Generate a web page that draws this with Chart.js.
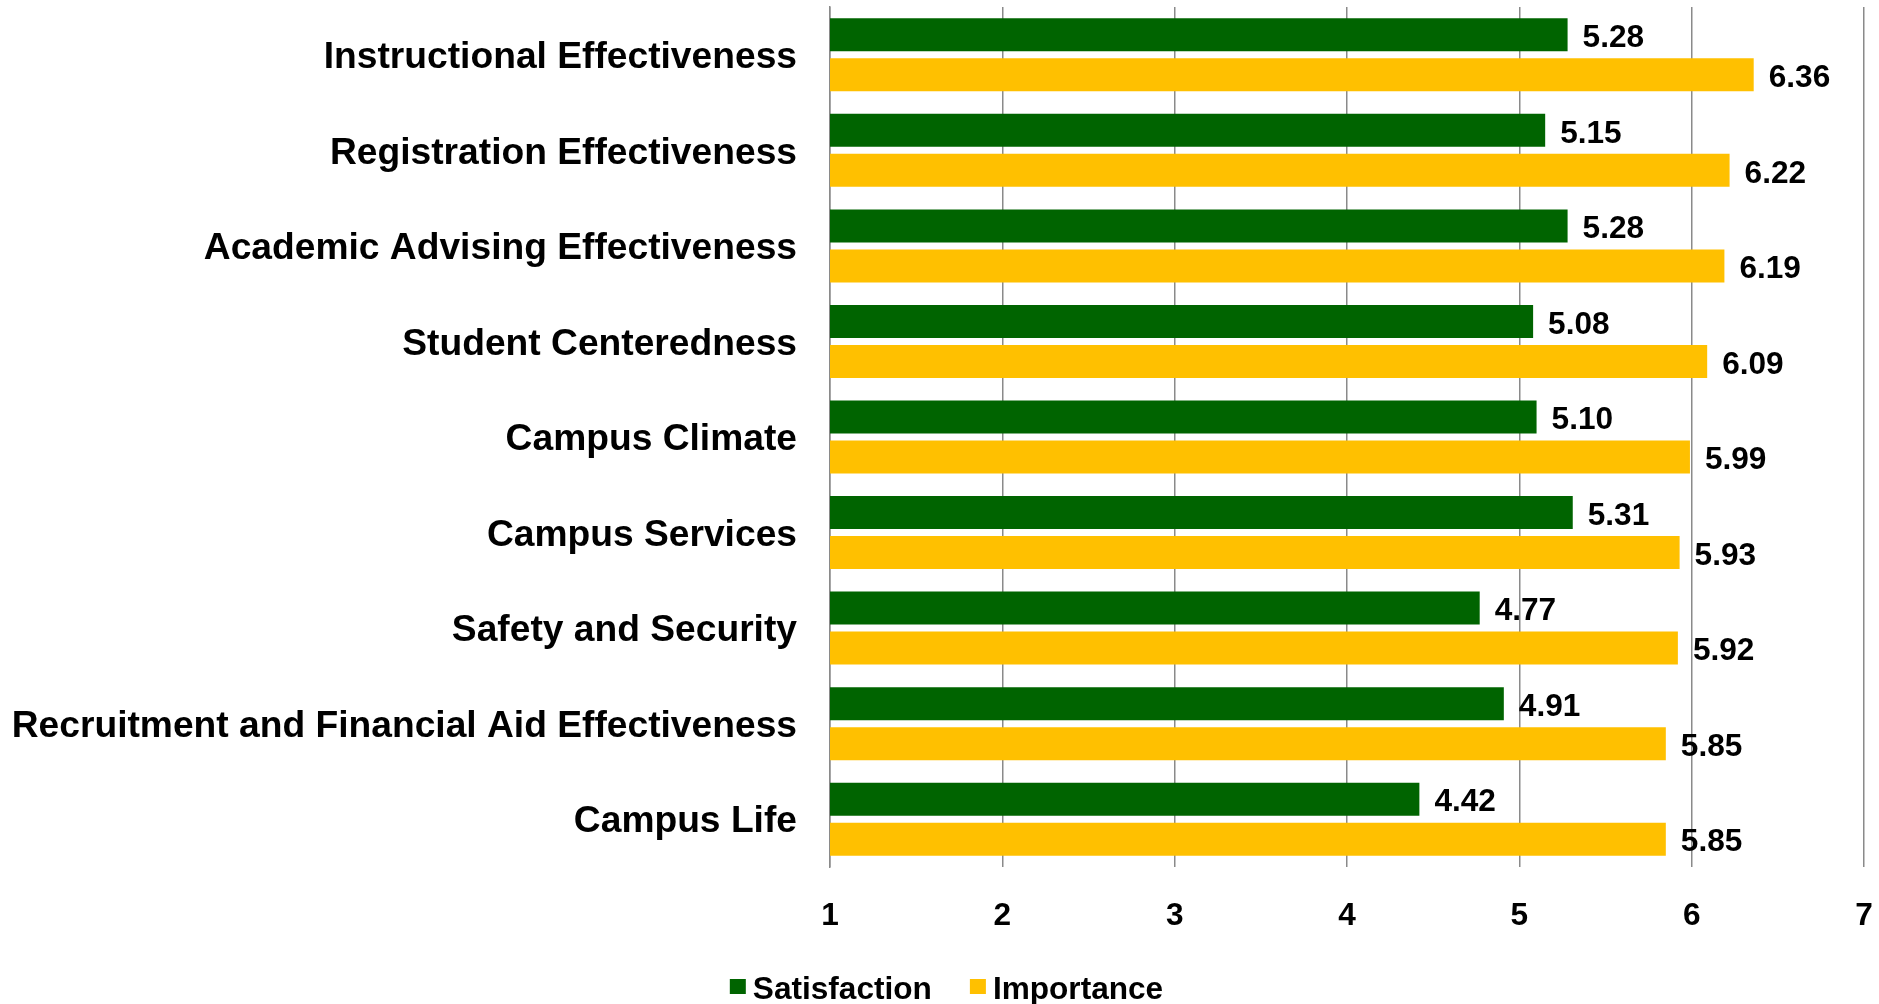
<!DOCTYPE html>
<html>
<head>
<meta charset="utf-8">
<title>Satisfaction and Importance by Scale</title>
<script src="https://cdn.jsdelivr.net/npm/chart.js@4"></script>
<style>
  html, body { margin: 0; padding: 0; background: #ffffff; }
  #wrap { width: 1879px; height: 1004px; position: relative; }
  canvas { display: block; }
</style>
</head>
<body>
<div id="wrap"><canvas id="chart" width="1879" height="1004"></canvas></div>
<script>
// Scale names, top to bottom
const categories = [
  'Instructional Effectiveness',
  'Registration Effectiveness',
  'Academic Advising Effectiveness',
  'Student Centeredness',
  'Campus Climate',
  'Campus Services',
  'Safety and Security',
  'Recruitment and Financial Aid Effectiveness',
  'Campus Life'
];

// Mean scores per scale
const satisfaction = [5.28, 5.15, 5.28, 5.08, 5.10, 5.31, 4.77, 4.91, 4.42];
const importance   = [6.36, 6.22, 6.19, 6.09, 5.99, 5.93, 5.92, 5.85, 5.85];

// Value axis ticks
const xTicks = [1, 2, 3, 4, 5, 6, 7];

const seriesNames  = ['Satisfaction', 'Importance'];
const seriesColors = ['#006400', '#FFC000'];

const FONT = '"Liberation Sans", Arial, Helvetica, sans-serif';
const GRID = '#8a8a8a';

// Keep tick labels from adding extra room around the plot
function noEdgePadding(scale) {
  scale.paddingTop = 0;
  scale.paddingBottom = 0;
  scale.paddingLeft = 0;
  scale.paddingRight = 0;
}

// Numeric labels just past the end of each bar
const valueLabels = {
  id: 'valueLabels',
  afterDatasetsDraw(chart) {
    const ctx = chart.ctx;
    ctx.save();
    ctx.font = 'bold 31.6px ' + FONT;
    ctx.fillStyle = '#000000';
    ctx.textAlign = 'left';
    ctx.textBaseline = 'middle';
    chart.data.datasets.forEach((ds, di) => {
      const meta = chart.getDatasetMeta(di);
      meta.data.forEach((bar, i) => {
        ctx.fillText(Number(ds.data[i]).toFixed(2), bar.x + 15, bar.y + 3.5);
      });
    });
    ctx.restore();
  }
};

// Single-row legend centred under the axis
const legendRow = {
  id: 'legendRow',
  afterDraw(chart) {
    const ctx = chart.ctx;
    ctx.save();
    ctx.font = 'bold 31.6px ' + FONT;
    ctx.textBaseline = 'alphabetic';
    ctx.textAlign = 'left';
    const box = 16, boxGap = 7, itemGap = 38;
    const items = chart.data.datasets.map(ds => ({
      text: ds.label, color: ds.backgroundColor, w: ctx.measureText(ds.label).width
    }));
    const total = items.reduce((s, it) => s + box + boxGap + it.w, 0) + itemGap * (items.length - 1);
    let x = chart.width / 2 + 7 - total / 2;
    const baseline = 999;
    items.forEach(it => {
      ctx.fillStyle = it.color;
      ctx.fillRect(x, baseline - 20, box, 15);
      ctx.fillStyle = '#000000';
      ctx.fillText(it.text, x + box + boxGap, baseline);
      x += box + boxGap + it.w + itemGap;
    });
    ctx.restore();
  }
};

const chart = new Chart(document.getElementById('chart'), {
  type: 'bar',
  data: {
    labels: categories,
    datasets: [
      { label: seriesNames[0], data: satisfaction, backgroundColor: seriesColors[0] },
      { label: seriesNames[1], data: importance,   backgroundColor: seriesColors[1] }
    ]
  },
  options: {
    indexAxis: 'y',
    responsive: false,
    animation: false,
    devicePixelRatio: 1,
    categoryPercentage: 0.837,
    barPercentage: 0.825,
    layout: { padding: { top: 7, right: 15, bottom: 57, left: 0 } },
    plugins: {
      legend: { display: false },
      tooltip: { enabled: false }
    },
    scales: {
      x: {
        type: 'linear',
        min: xTicks[0],
        max: xTicks[xTicks.length - 1],
        afterBuildTicks(scale) {
          scale.ticks = xTicks.map(v => ({ value: v }));
        },
        afterFit(scale) { scale.height = 80; noEdgePadding(scale); },
        grid: { color: GRID, lineWidth: 1.5, drawTicks: false },
        border: { display: false },
        ticks: {
          padding: 30,
          color: '#000000',
          font: { family: FONT, size: 31.6, weight: 'bold' }
        }
      },
      y: {
        afterFit(scale) { scale.width = 830; noEdgePadding(scale); },
        grid: { display: false, drawTicks: false },
        border: { display: true, color: GRID, width: 1.5 },
        ticks: {
          padding: 33,
          labelOffset: 3,
          color: '#000000',
          font: { family: FONT, size: 37.2, weight: 'bold' }
        }
      }
    }
  },
  plugins: [valueLabels, legendRow]
});
</script>
</body>
</html>
